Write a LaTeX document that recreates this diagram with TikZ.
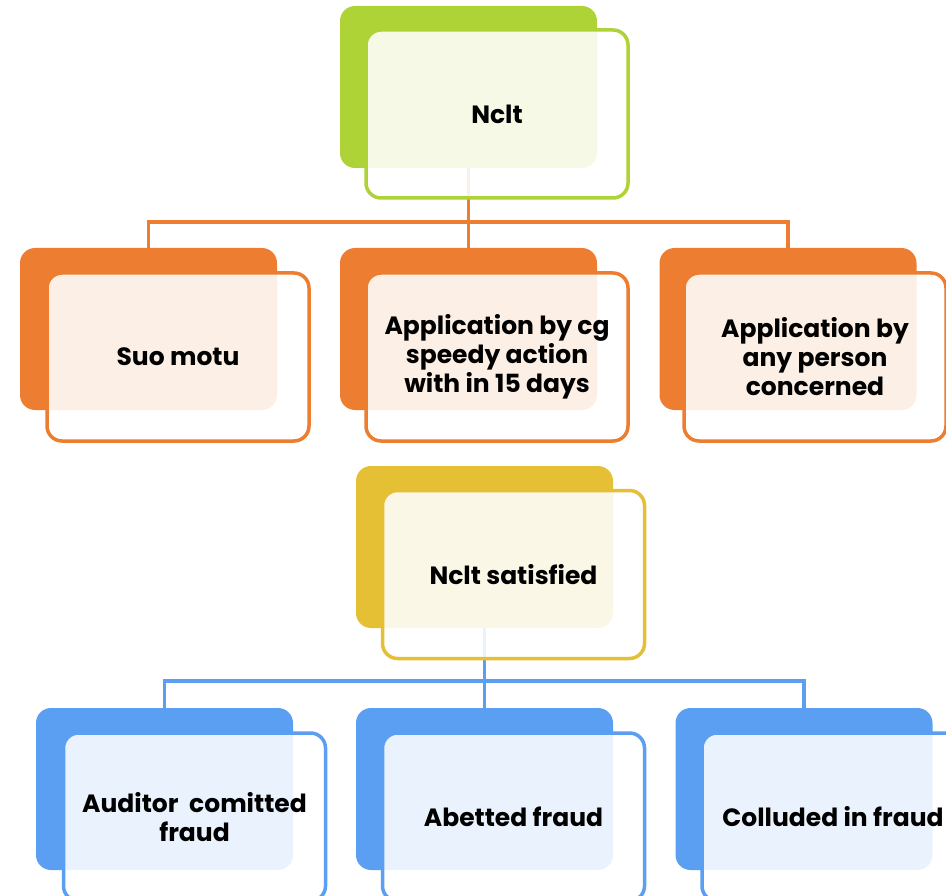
\documentclass[tikz,border=0pt]{standalone}
\usepackage{fontspec}
\setmainfont{Poppins}
\definecolor{cgreen}{HTML}{ADD337}
\definecolor{corange}{HTML}{ED7D31}
\definecolor{cyellow}{HTML}{E5C035}
\definecolor{cblue}{HTML}{5A9FF2}
\tikzset{
  backbox/.style={rectangle, rounded corners=15pt, minimum width=257pt, minimum height=162pt, inner sep=0pt, fill=#1},
  frontbox/.style={rectangle, rounded corners=15pt, minimum width=262pt, minimum height=168pt, inner sep=0pt, draw=#1, line width=3.5pt, fill=white, fill opacity=0.88, text opacity=1, align=center, font=\fontsize{25}{29}\selectfont\bfseries},
  conn/.style={draw=#1, line width=3.5pt}
}
\begin{document}
\begin{tikzpicture}[x=1pt,y=-1pt]
\useasboundingbox (0,0) rectangle (946,896);
\clip (0,0) rectangle (946,896);
% back boxes
\node[backbox=cgreen] (b0) at (468.5,87) {};
\node[backbox=corange] (b1) at (148.5,329) {};
\node[backbox=corange] (b2) at (468.5,329) {};
\node[backbox=corange] (b3) at (788,329) {};
\node[backbox=cyellow] (b4) at (484.5,547) {};
\node[backbox=cblue] (b5) at (164.5,789) {};
\node[backbox=cblue] (b6) at (484.5,789) {};
\node[backbox=cblue] (b7) at (804,789) {};
% connectors
\coordinate (m1) at (468.5,222);
\coordinate (m2) at (484.5,681);
\draw[conn=corange] (b0.south) -- (b0.south |- m1) -| (b1.north);
\draw[conn=corange] (b0.south) -- (b2.north);
\draw[conn=corange] (b0.south |- m1) -| (b3.north);
\draw[conn=cblue] (b4.south) -- (b4.south |- m2) -| (b5.north);
\draw[conn=cblue] (b4.south) -- (b6.north);
\draw[conn=cblue] (b4.south |- m2) -| (b7.north);
% front boxes
\node[frontbox=cgreen] (f0) at (497,114) {Nclt};
\node[frontbox=corange] (f1) at (178,357) {Suo motu};
\node[frontbox=corange] (f2) at (497,357) {Application by cg\\speedy action\\with in 15 days};
\node[frontbox=corange] (f3) at (815,357) {Application by\\any person\\concerned};
\node[frontbox=cyellow] (f4) at (513.5,574.5) {Nclt satisfied};
\node[frontbox=cblue] (f5) at (194.5,817) {Auditor\ \ comitted\\fraud};
\node[frontbox=cblue] (f6) at (513.5,817) {Abetted fraud};
\node[frontbox=cblue] (f7) at (833,817) {Colluded in fraud};
\end{tikzpicture}
\end{document}
